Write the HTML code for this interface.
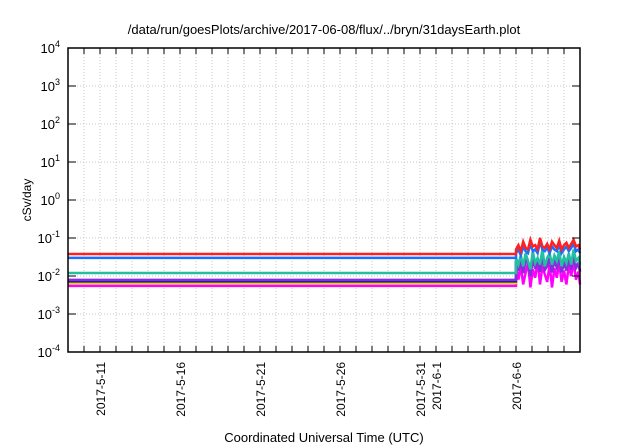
<!DOCTYPE html>
<html><head><meta charset="utf-8"><style>
body{margin:0;background:#fff;}
svg{display:block;font-family:"Liberation Sans",sans-serif;}
</style></head><body>
<svg id="c" width="640" height="448">
<text x="324" y="34" font-size="13" text-anchor="middle">/data/run/goesPlots/archive/2017-06-08/flux/../bryn/31daysEarth.plot</text>
<text transform="translate(31,200) rotate(-90)" font-size="12" text-anchor="middle">cSv/day</text>
<text x="324" y="442" font-size="13" text-anchor="middle">Coordinated Universal Time (UTC)</text>
<g id="grid"></g><g id="series"></g><g id="axes"></g>
</svg>
<script>
const yExps=[-4,-3,-2,-1,0,1,2,3,4];
const xLabels=["2017-5-11","2017-5-16","2017-5-21","2017-5-26","2017-5-31","2017-6-1","2017-6-6"];
const xLabelDays=[2,7,12,17,22,23,28];
const nDays=32;
const seriesNames=["magenta","yellow","navy","purple","teal","blue","red"];
const seriesColors=["#ff00ff","#e8d800","#1a1aa0","#8a2be2","#20c0a0","#1e6fff","#ff2020"];
const flatValues=[0.0055,0.0065,0.0072,0.0079,0.012,0.030,0.038];
const noiseDays=[28,28.15,28.3,28.45,28.6,28.75,28.9,29.05,29.2,29.35,29.5,29.65,29.8,29.95,30.1,30.25,30.4,30.55,30.7,30.85,31,31.15,31.3,31.45,31.6,31.75,31.9,32];
const noiseMagenta=[0.02,0.008,0.018,0.006,0.012,0.022,0.005,0.015,0.009,0.025,0.006,0.018,0.011,0.007,0.02,0.005,0.016,0.009,0.022,0.007,0.014,0.006,0.019,0.01,0.024,0.008,0.013,0.006];
const noiseTeal=[0.03,0.02,0.035,0.018,0.04,0.025,0.015,0.045,0.022,0.03,0.02,0.05,0.018,0.03,0.04,0.02,0.035,0.025,0.045,0.018,0.032,0.022,0.04,0.02,0.05,0.025,0.03,0.02];
const noiseBlue=[0.04,0.05,0.035,0.06,0.045,0.04,0.07,0.045,0.05,0.04,0.08,0.05,0.045,0.055,0.04,0.06,0.05,0.045,0.065,0.04,0.05,0.06,0.045,0.055,0.07,0.045,0.05,0.04];
const noiseRed=[0.05,0.065,0.045,0.08,0.055,0.05,0.09,0.06,0.065,0.05,0.1,0.06,0.055,0.07,0.05,0.08,0.065,0.055,0.085,0.05,0.065,0.075,0.055,0.07,0.09,0.06,0.065,0.05];
const L=68,R=580,T=48,B=352;
const X=d=>L+(R-L)*d/nDays;
const Y=v=>B-(Math.log10(v)+4)*(B-T)/8;
const ns="http://www.w3.org/2000/svg";
function mk(t,a,p){const e=document.createElementNS(ns,t);for(const k in a)e.setAttribute(k,a[k]);p.appendChild(e);return e;}
const grid=document.getElementById('grid'),axes=document.getElementById('axes'),ser=document.getElementById('series');
for(let d=1;d<nDays;d++){
 const g=mk('line',{x1:X(d),x2:X(d),y1:T,y2:B,stroke:'#bbb','stroke-dasharray':'1,2','stroke-width':0.8},grid);
 
 const t1=mk('line',{x1:X(d),x2:X(d),y1:B,y2:B-6,stroke:'#000'},axes);
 
 const t2=mk('line',{x1:X(d),x2:X(d),y1:T,y2:T+6,stroke:'#000'},axes);
 
}
yExps.forEach(e=>{
 const y=Y(Math.pow(10,e));
 if(e>-4&&e<4){const g=mk('line',{x1:L,x2:R,y1:y,y2:y,stroke:'#bbb','stroke-dasharray':'1,2','stroke-width':0.8},grid);
 
 const t=mk('line',{x1:L,x2:L+8,y1:y,y2:y,stroke:'#000'},axes);
 const t2=mk('line',{x1:R,x2:R-8,y1:y,y2:y,stroke:'#000'},axes);}
 const tx=mk('text',{x:L-8,y:y+5,'font-size':13,'text-anchor':'end'},axes);
 
 tx.innerHTML='10<tspan dy="-6" font-size="9">'+e+'</tspan>';
});
xLabels.forEach((s,i)=>{
 const x=X(xLabelDays[i]);
 const tx=mk('text',{transform:`translate(${x+5},${B+10}) rotate(-90)`,'font-size':12,'text-anchor':'end'},axes);
 
 tx.textContent=s;
});
const fr=mk('rect',{x:L,y:T,width:R-L,height:B-T,fill:'none',stroke:'#000','stroke-width':1.5},axes);

const noise={red:noiseRed,blue:noiseBlue,teal:noiseTeal,magenta:noiseMagenta};
seriesNames.forEach((n,i)=>{
 let pts=[[0,flatValues[i]],[noiseDays[0],flatValues[i]]];
 const nz=noise[n];
 if(nz)noiseDays.forEach((d,j)=>pts.push([d,nz[j]]));
 else noiseDays.forEach((d,j)=>pts.push([d,(noiseMagenta[j]+noiseTeal[j])/2]));
 const p=mk('polyline',{points:pts.map(q=>X(q[0])+','+Y(q[1])).join(' '),fill:'none',stroke:seriesColors[i],'stroke-width':2.5},ser);
 
});
</script>
</body></html>
